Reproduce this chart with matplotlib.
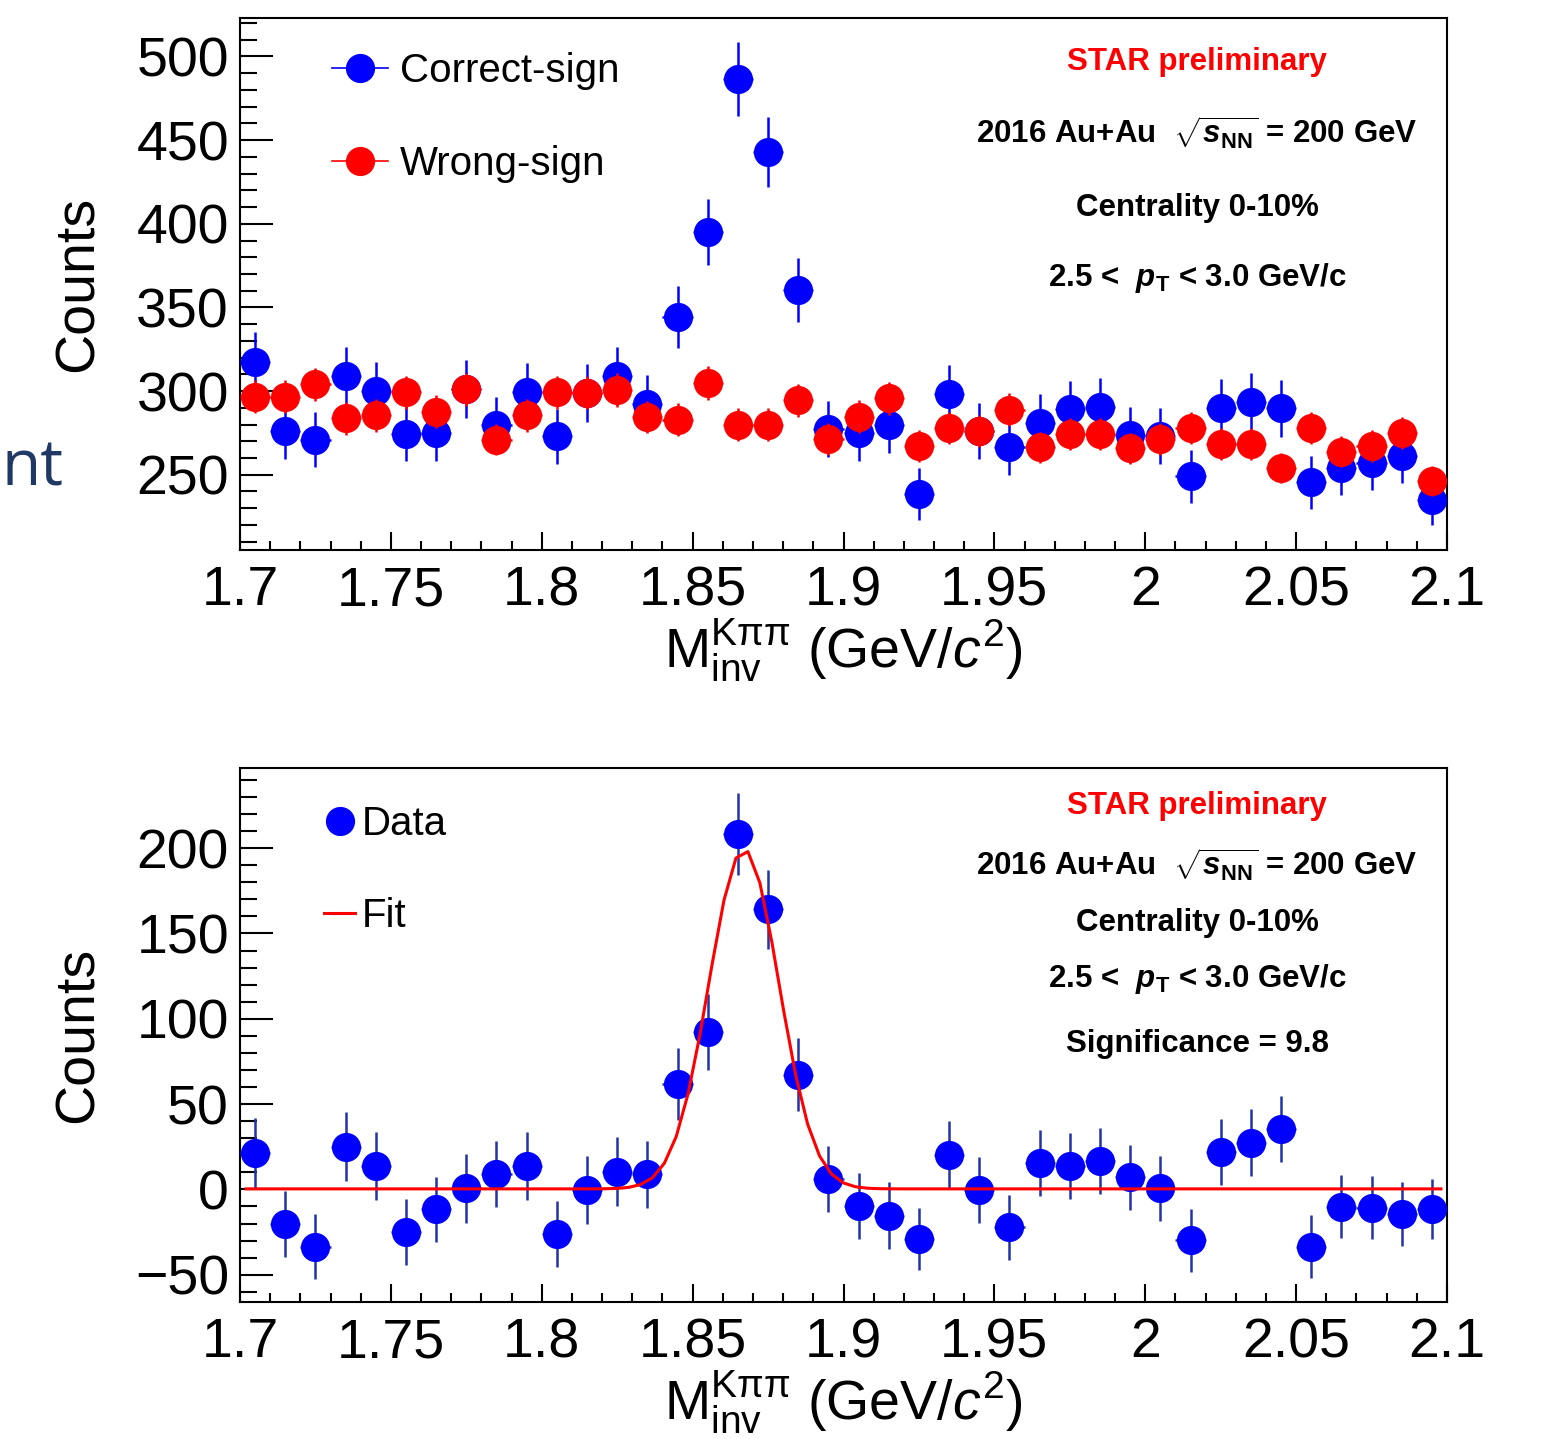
import numpy as np
import matplotlib
matplotlib.use('Agg')
import matplotlib.pyplot as plt
from matplotlib.lines import Line2D
from matplotlib.ticker import MultipleLocator, FixedLocator

plt.rcParams['font.family'] = ['Liberation Sans', 'DejaVu Sans']
plt.rcParams['mathtext.fontset'] = 'custom'
plt.rcParams['mathtext.rm'] = 'Liberation Sans'
plt.rcParams['mathtext.it'] = 'Liberation Sans:italic'
plt.rcParams['mathtext.bf'] = 'Liberation Sans:bold'
plt.rcParams['mathtext.sf'] = 'Liberation Sans:bold:italic'

# 数据 (bin centers, GeV/c^2)
mass = [1.705, 1.715, 1.725, 1.735, 1.745, 1.755, 1.765, 1.775, 1.785, 1.795,
        1.805, 1.815, 1.825, 1.835, 1.845, 1.855, 1.865, 1.875, 1.885, 1.895,
        1.905, 1.915, 1.925, 1.935, 1.945, 1.955, 1.965, 1.975, 1.985, 1.995,
        2.005, 2.015, 2.025, 2.035, 2.045, 2.055, 2.065, 2.075, 2.085, 2.095]
bin_half = 0.005

correct_sign = [317.5, 276, 271, 309, 300, 274.6, 275, 301.5, 280, 299.6,
                273, 299, 309, 292.5, 344, 395, 486.5, 443, 360.5, 277.5,
                274.8, 279.8, 238.3, 298.2, 276.2, 266.3, 281.2, 289, 290.7, 273.8,
                273.2, 249, 290, 293.5, 289.7, 245.4, 253.8, 257, 261.3, 235]
wrong_sign = [296.6, 296.6, 304, 283.7, 285.5, 299.2, 287.7, 301, 271, 285.5,
              299.2, 299, 300.6, 284.5, 283, 305, 280, 280, 294.4, 271.5,
              284.7, 295.6, 267.3, 277.8, 276.2, 288.9, 266.3, 274.2, 274.2, 265.7,
              271.2, 277.8, 268.3, 268.3, 254, 277.8, 263.7, 267.3, 275.2, 246.4]
signal = [21.4, -20.2, -33.5, 25.1, 13.8, -25.1, -11.7, 0.6, 9.1, 13.8,
          -25.9, -0.4, 10.3, 8.8, 61.8, 92.4, 208.5, 164.3, 67.3, 6.0,
          -9.7, -15.4, -29, 20.4, -0.4, -22.2, 15.6, 13.8, 16.7, 7.2,
          0.6, -29.8, 22, 27.4, 35.6, -33.5, -10.1, -10.7, -14.6, -11.5]

# 统计误差
correct_err = np.sqrt(np.array(correct_sign))
wrong_err = np.sqrt(np.array(wrong_sign) / 3.0)
signal_err = np.sqrt(np.array(correct_sign) + np.array(wrong_sign) / 3.0)

# 拟合参数 gaus + pol0
fit_amp = 199.0
fit_mean = 1.867
fit_sigma = 0.0116
fit_const = 0.3

xticks = [1.7, 1.75, 1.8, 1.85, 1.9, 1.95, 2.0, 2.05, 2.1]
xticklabels = ['1.7', '1.75', '1.8', '1.85', '1.9', '1.95', '2', '2.05', '2.1']

info_lines = [r'2016 Au+Au  $\sqrt{\mathsf{s}_{\mathbf{NN}}}$ = 200 GeV',
              'Centrality 0-10%',
              r'2.5 <  $\mathsf{p}_{\mathbf{T}}$ < 3.0 GeV/c']

W, H = 1557, 1439
fig = plt.figure(figsize=(W / 100, H / 100), dpi=100)
ax1 = fig.add_axes([240 / W, 1 - 550 / H, 1207 / W, 532 / H])
ax2 = fig.add_axes([240 / W, 1 - 1302 / H, 1207 / W, 534 / H])

ms = 20
tick_fs = 40
info_fs = 22.5


def style_axis(ax):
    for sp in ax.spines.values():
        sp.set_linewidth(1.5)
    ax.set_xlim(1.7, 2.1)
    ax.xaxis.set_major_locator(FixedLocator(xticks))
    ax.set_xticklabels(xticklabels)
    ax.xaxis.set_minor_locator(MultipleLocator(0.01))
    ax.yaxis.set_minor_locator(MultipleLocator(10))
    ax.tick_params(axis='both', which='both', direction='in', top=False, right=False,
                   width=1.5, labelsize=tick_fs)
    ax.tick_params(axis='x', which='major', length=13, pad=11)
    ax.tick_params(axis='x', which='minor', length=6.5)
    ax.tick_params(axis='y', which='major', length=24, pad=8)
    ax.tick_params(axis='y', which='minor', length=12)
    ax.set_ylabel('Counts', fontsize=40)
    ax.yaxis.set_label_coords(-0.112, 0.5)
    ax.set_xlabel(r'M$_{\rm inv}^{\rm K\pi\pi}$ (GeV/$c^{2}$)', fontsize=40, va='top')


# 上图
style_axis(ax1)
ax1.set_ylim(205, 523)
ax1.yaxis.set_major_locator(MultipleLocator(50))
ax1.xaxis.set_label_coords(0.5, -0.128)
ax1.errorbar(mass, correct_sign, yerr=correct_err, xerr=bin_half, fmt='o', color='#0000ff',
             ms=ms, elinewidth=1.8, capsize=0, zorder=3)
ax1.errorbar(mass, wrong_sign, yerr=wrong_err, xerr=bin_half, fmt='o', color='#ff0000',
             ms=ms, elinewidth=1.8, capsize=0, zorder=4)

h1 = [Line2D([], [], color='#0000ff', marker='o', ms=ms, lw=1.2),
      Line2D([], [], color='#ff0000', marker='o', ms=ms, lw=1.2)]
ax1.legend(h1, ['Correct-sign', 'Wrong-sign'], loc='upper left', bbox_to_anchor=(0.076, 0.936),
           frameon=False, fontsize=29, handlelength=1.4, handletextpad=0.3,
           labelspacing=1.37, borderpad=0, borderaxespad=0)

ax1.text(0.793, 0.918, 'STAR preliminary', transform=ax1.transAxes, color='#ff0000',
         fontsize=info_fs, fontweight='bold', ha='center', va='center')
for txt, yy in zip(info_lines, [0.784, 0.643, 0.511]):
    ax1.text(0.793, yy, txt, transform=ax1.transAxes, fontsize=info_fs, fontweight='bold',
             ha='center', va='center')

# 下图
style_axis(ax2)
ax2.set_ylim(-66, 247)
ax2.yaxis.set_major_locator(MultipleLocator(50))
ax2.xaxis.set_label_coords(0.5, -0.128)
ax2.errorbar(mass, signal, yerr=signal_err, xerr=bin_half, fmt='o', color='#0000ff',
             ecolor='#2233a8', ms=ms, elinewidth=1.8, capsize=0, zorder=3)
mfine = np.linspace(1.702, 2.098, 101)
fit_curve = fit_amp * np.exp(-0.5 * ((mfine - fit_mean) / fit_sigma) ** 2) + fit_const
ax2.plot(mfine, fit_curve, color='#ff0000', lw=2.2, zorder=5)

h2 = [Line2D([], [], color='#0000ff', marker='o', ms=ms, lw=0),
      Line2D([], [], color='#ff0000', lw=2.2)]
ax2.legend(h2, ['Data', 'Fit'], loc='upper left', bbox_to_anchor=(0.070, 0.930),
           frameon=False, fontsize=29, handlelength=0.75, handletextpad=0.18,
           labelspacing=1.33, borderpad=0, borderaxespad=0)

ax2.text(0.793, 0.929, 'STAR preliminary', transform=ax2.transAxes, color='#ff0000',
         fontsize=info_fs, fontweight='bold', ha='center', va='center')
for txt, yy in zip(info_lines + ['Significance = 9.8'], [0.819, 0.710, 0.605, 0.484]):
    ax2.text(0.793, yy, txt, transform=ax2.transAxes, fontsize=info_fs, fontweight='bold',
             ha='center', va='center')

# 幻灯片左侧残留文字
fig.text(64 / W, 1 - 485 / H, 'nt', color='#1f3864', fontsize=46, family='Open Sans',
         ha='right', va='baseline')

fig.savefig('out.png', dpi=100)
